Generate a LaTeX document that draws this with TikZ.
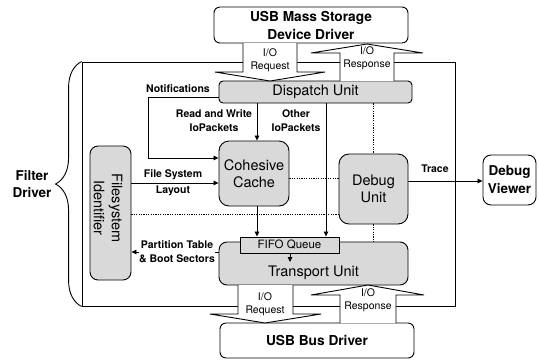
\documentclass[tikz,border=0pt]{standalone}
\usepackage{fontspec}
\setmainfont{TeX Gyre Heros}
\usetikzlibrary{arrows.meta,decorations.pathreplacing}
\definecolor{unitgray}{gray}{0.85}
\begin{document}
\begin{tikzpicture}[x=1pt,y=-1pt,
  box/.style={draw, line width=0.9pt, inner sep=0pt, align=center},
  unit/.style={box, fill=unitgray, font=\fontsize{14.5}{16.5}\selectfont},
  ext/.style={box, fill=white, rounded corners=6pt, font=\fontsize{13.7}{18}\selectfont\bfseries},
  lbl/.style={font=\fontsize{10.5}{14}\selectfont\bfseries, align=center, inner sep=0pt},
  iolbl/.style={font=\fontsize{10.5}{13}\selectfont, align=center, inner sep=0pt},
  conn/.style={line width=0.8pt},
  arr/.style={conn, -{Triangle[length=5pt,width=4.5pt]}},
  dots/.style={line width=0.9pt, dash pattern=on 1.2pt off 1.2pt},
  blockarrow/.style={draw, line width=0.9pt, fill=white, line join=miter}
]
\useasboundingbox (0,0) rectangle (538,360);

% filter driver frame and its brace
\node[draw, line width=0.9pt, minimum width=373pt, minimum height=244pt, inner sep=0pt] (frame) at (268.5,184) {};
\draw[line width=0.9pt, decorate, decoration={brace, amplitude=26pt}] (frame.south west) -- (frame.north west);
\node[font=\fontsize{13.5}{17}\selectfont\bfseries, align=center] (filterlbl) at (32,184) {Filter\\Driver};

% external drivers
\node[ext, minimum width=194pt, minimum height=36pt] (usbms) at (311,25) {USB Mass Storage\\Device Driver};
\node[ext, minimum width=194pt, minimum height=35pt] (bus) at (317,340.5) {USB Bus Driver};
\node[ext, rounded corners=8pt, font=\fontsize{13.5}{18}\selectfont\bfseries, minimum width=53pt, minimum height=50pt] (viewer) at (509.5,180) {Debug\\Viewer};

% units of the filter driver
\node[unit, rounded corners=4pt, minimum width=193pt, minimum height=22pt] (dispatch) at (315.5,92) {Dispatch Unit};
\node[unit, rounded corners=10pt, minimum width=70pt, minimum height=65pt] (cache) at (254,173.5) {Cohesive\\Cache};
\node[unit, rounded corners=8pt, minimum width=41pt, minimum height=134pt] (fsid) at (110.5,213) {};
\node[font=\fontsize{14.5}{18}\selectfont, align=center, rotate=-90, inner sep=0pt] (fsidtext) at (108,208) {Filesystem\\Identifier};
\node[unit, rounded corners=10pt, minimum width=69pt, minimum height=70pt] (debug) at (373.5,189) {Debug\\Unit};
\node[unit, rounded corners=8pt, minimum width=189pt, minimum height=43pt] (transport) at (313.5,263.5) {};
\node[font=\fontsize{14.5}{16.5}\selectfont, inner sep=0pt] (transporttext) at (313.5,273) {Transport Unit};
\node[box, fill=unitgray, font=\fontsize{11.5}{13}\selectfont, minimum width=99pt, minimum height=16pt] (fifo) at (289.5,245) {FIFO Queue};

% helper coordinates for connector positions
\coordinate (nbend) at (148,97);
\coordinate (rwx) at (257,0);
\coordinate (othx) at (326,0);
\coordinate (fifox) at (290,0);
\coordinate (fifoend) at (290,262);
\coordinate (fsly) at (0,183);
\coordinate (pty) at (0,252);
\coordinate (cdy) at (0,178);
\coordinate (fdy) at (0,214);
\coordinate (try) at (0,181);

% connectors
\draw[arr] ([yshift=-5pt]dispatch.west) -- (nbend) |- ([yshift=15.5pt]cache.west);
\draw[arr] (rwx |- dispatch.south) -- (rwx |- cache.north);
\draw[arr] (othx |- dispatch.south) -- (othx |- fifo.north);
\draw[arr] (rwx |- cache.south) -- (rwx |- fifo.north);
\draw[arr] (fifox |- fifo.south) -- (fifoend);
\draw[arr] (fsid.east |- fsly) -- (cache.west |- fsly);
\draw[arr] (transport.west |- pty) -- (fsid.east |- pty);
\draw[arr] (debug.east |- try) -- (viewer.west |- try);

% debug taps
\draw[dots] (dispatch.south -| debug.north) -- (debug.north);
\draw[dots] (debug.south) -- (debug.south |- transport.north);
\draw[dots] (cache.east |- cdy) -- (debug.west |- cdy);
\draw[dots] (fsid.east |- fdy) -- (debug.west |- fdy);

% connector labels
\node[lbl] (notiflbl) at (178,89) {Notifications};
\node[lbl] (rwlbl) at (214,121) {Read and Write\\IoPackets};
\node[lbl] (otherlbl) at (296,121) {Other\\IoPackets};
\node[lbl, font=\fontsize{10.5}{16}\selectfont\bfseries] (fsllbl) at (173,183) {File System\\Layout};
\node[lbl, fill=white] (ptlbl) at (177,252) {Partition Table\\\& Boot Sectors};
\node[lbl] (tracelbl) at (435,169) {Trace};

% I/O block arrows
\draw[blockarrow] (243,43) -- (243,72) -- (215,72) -- (270,81) -- (325,72) -- (297,72) -- (297,43);
\draw[blockarrow] (340,81) -- (340,53) -- (311,53) -- (367,44) -- (423,53) -- (394,53) -- (394,81);
\draw[blockarrow] (238,285) -- (238,314) -- (210,314) -- (265,323) -- (321,314) -- (293,314) -- (293,285);
\draw[blockarrow] (340,323) -- (340,295) -- (311,295) -- (368,285) -- (424,295) -- (396,295) -- (396,323);
\node[iolbl] (topreq) at (270,60.5) {I/O\\Request};
\node[iolbl] (topresp) at (367,58.5) {I/O\\Response};
\node[iolbl] (botreq) at (265,304) {I/O\\Request};
\node[iolbl] (botresp) at (368,300) {I/O\\Response};
\end{tikzpicture}
\end{document}
